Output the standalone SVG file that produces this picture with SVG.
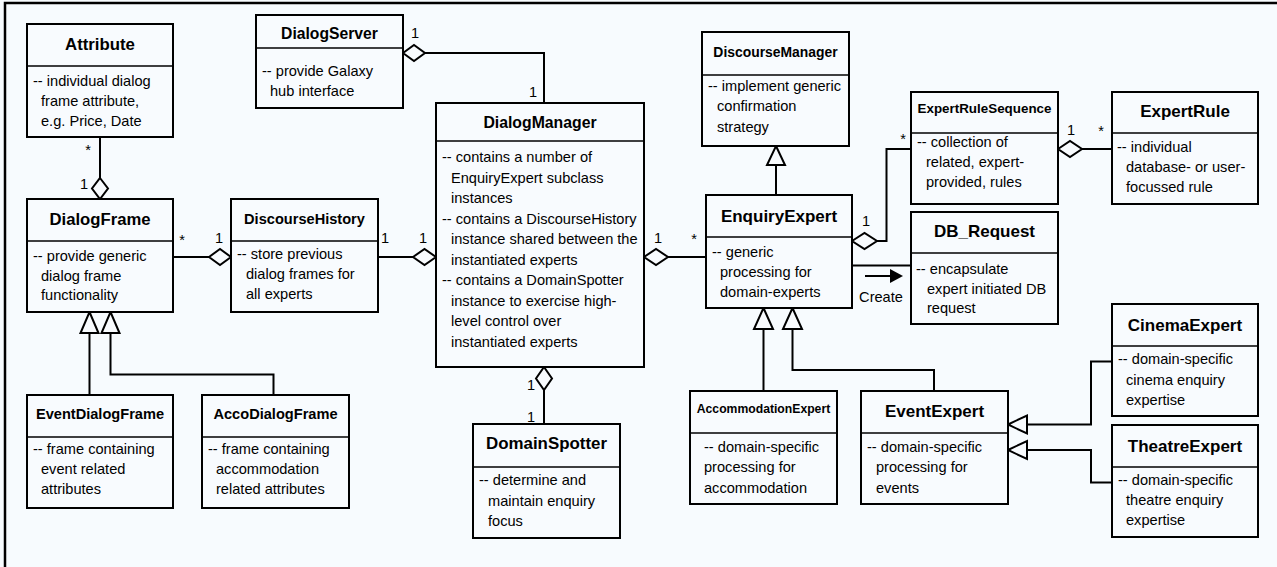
<svg xmlns="http://www.w3.org/2000/svg" width="1277" height="567" viewBox="0 0 1277 567">
<style>
text{font-family:"Liberation Sans",Arial,sans-serif;fill:#000}
.t{font-weight:bold;font-size:17px;text-anchor:middle}
.b{font-size:14.6px}
.m{font-size:14.6px;text-anchor:middle}
.box{fill:#f8fbfe;stroke:#000;stroke-width:2}
.div{stroke:#000;stroke-width:1.3}
.ln{fill:none;stroke:#000;stroke-width:2}
.dia{fill:#f8fbfe;stroke:#000;stroke-width:2;stroke-linejoin:miter}
.tri{fill:#f8fbfe;stroke:#000;stroke-width:2}
</style>
<rect x="0" y="0" width="1277" height="567" fill="#f7fbfe"/>
<path d="M5,567 V3 H1277" fill="none" stroke="#000" stroke-width="2.5"/>

<g id="connectors">
  <!-- Attribute - DialogFrame -->
  <path class="ln" d="M100,137 V178"/>
  <polygon class="dia" points="100,178 108,188.5 100,199 92,188.5"/>
  <text class="m" x="88" y="154.5">*</text>
  <text class="m" x="84" y="189">1</text>
  <!-- DialogFrame - DiscourseHistory -->
  <path class="ln" d="M173,257 H209"/>
  <polygon class="dia" points="209,257 220,249 231,257 220,265"/>
  <text class="m" x="182" y="244.5">*</text>
  <text class="m" x="219" y="243">1</text>
  <!-- DiscourseHistory - DialogManager -->
  <path class="ln" d="M378,257 H413"/>
  <polygon class="dia" points="413,257 424.5,249 436,257 424.5,265"/>
  <text class="m" x="385" y="243">1</text>
  <text class="m" x="423" y="243">1</text>
  <!-- DialogServer - DialogManager -->
  <polygon class="dia" points="403,53 414,45 425,53 414,61"/>
  <path class="ln" d="M425,53 H544 V103"/>
  <text class="m" x="415" y="38">1</text>
  <text class="m" x="533" y="97">1</text>
  <!-- DialogManager - DomainSpotter -->
  <polygon class="dia" points="544,367 552,378.5 544,390 536,378.5"/>
  <path class="ln" d="M544,390 V424"/>
  <text class="m" x="531" y="390">1</text>
  <text class="m" x="531" y="422">1</text>
  <!-- DialogManager - EnquiryExpert -->
  <polygon class="dia" points="644,257 656,249 668,257 656,265"/>
  <path class="ln" d="M668,257 H706"/>
  <text class="m" x="658" y="243">1</text>
  <text class="m" x="694" y="244">*</text>
  <!-- DiscourseManager generalisation -->
  <path class="ln" d="M776,165 V195"/>
  <polygon class="tri" points="776,146 785,165 767,165"/>
  <!-- EnquiryExpert - ExpertRuleSequence -->
  <polygon class="dia" points="852,241 864.5,233 877,241 864.5,249"/>
  <path class="ln" d="M877,241 H886.5 V149 H911"/>
  <text class="m" x="866" y="226">1</text>
  <text class="m" x="903" y="143.5">*</text>
  <!-- ExpertRuleSequence - ExpertRule -->
  <polygon class="dia" points="1058,149 1070,141 1082,149 1070,157"/>
  <path class="ln" d="M1082,149 H1112"/>
  <text class="m" x="1071" y="135">1</text>
  <text class="m" x="1101" y="136">*</text>
  <!-- Create -->
  <path class="ln" d="M852,265.5 H911"/>
  <path class="ln" d="M865,276 H891"/>
  <polygon points="890,269 903,276 890,283" fill="#000"/>
  <text class="m" x="881" y="302">Create</text>
  <!-- EnquiryExpert subclasses -->
  <path class="ln" d="M763.5,329 V391"/>
  <path class="ln" d="M792.5,329 V370 H934 V391"/>
  <polygon class="tri" points="763.5,308 773,329 754,329"/>
  <polygon class="tri" points="792.5,308 802,329 783,329"/>
  <!-- EventExpert subclasses -->
  <path class="ln" d="M1027,424.5 H1091 V361.5 H1112"/>
  <path class="ln" d="M1027,450 H1091 V482.5 H1112"/>
  <polygon class="tri" points="1008,424.5 1027,415.5 1027,433.5"/>
  <polygon class="tri" points="1008,450 1027,441 1027,459"/>
  <!-- DialogFrame subclasses -->
  <path class="ln" d="M89.5,333 V395"/>
  <path class="ln" d="M110.5,333 V374.5 H273.5 V395"/>
  <polygon class="tri" points="89.5,312 98.5,333 80.5,333"/>
  <polygon class="tri" points="110.5,312 119.5,333 101.5,333"/>
</g>

<g id="Attribute">
  <rect class="box" x="27" y="24" width="146" height="113"/>
  <line class="div" x1="27" y1="66" x2="173" y2="66"/>
  <text class="t" x="100" y="49.5" style="font-size:16.8px">Attribute</text>
  <text class="b" x="33" y="86">-- individual dialog</text>
  <text class="b" x="41" y="106">frame attribute,</text>
  <text class="b" x="41" y="125.5">e.g. Price, Date</text>
</g>

<g id="DialogFrame">
  <rect class="box" x="27" y="199" width="146" height="113"/>
  <line class="div" x1="27" y1="241" x2="173" y2="241"/>
  <text class="t" x="100" y="224.5" style="font-size:16.7px">DialogFrame</text>
  <text class="b" x="33" y="261">-- provide generic</text>
  <text class="b" x="41" y="280.5">dialog frame</text>
  <text class="b" x="41" y="300">functionality</text>
</g>

<g id="DiscourseHistory">
  <rect class="box" x="231" y="199" width="147" height="113"/>
  <line class="div" x1="231" y1="241" x2="378" y2="241"/>
  <text class="t" x="304.5" y="224" style="font-size:14.6px">DiscourseHistory</text>
  <text class="b" x="237" y="258.5">-- store previous</text>
  <text class="b" x="246" y="279">dialog frames for</text>
  <text class="b" x="246" y="299">all experts</text>
</g>

<g id="DialogServer">
  <rect class="box" x="256" y="15" width="147" height="93"/>
  <line class="div" x1="256" y1="48" x2="403" y2="48"/>
  <text class="t" x="329.5" y="39" style="font-size:15.7px">DialogServer</text>
  <text class="b" x="262" y="76">-- provide Galaxy</text>
  <text class="b" x="270" y="95.5">hub interface</text>
</g>

<g id="DialogManager">
  <rect class="box" x="436" y="103" width="208" height="264"/>
  <line class="div" x1="436" y1="141" x2="644" y2="141"/>
  <text class="t" x="540" y="127.5" style="font-size:15.8px">DialogManager</text>
  <text class="b" x="442" y="162">-- contains a number of</text>
  <text class="b" x="451" y="182.5">EnquiryExpert subclass</text>
  <text class="b" x="451" y="203">instances</text>
  <text class="b" x="442" y="223.5">-- contains a DiscourseHistory</text>
  <text class="b" x="451" y="244">instance shared between the</text>
  <text class="b" x="451" y="264.5">instantiated experts</text>
  <text class="b" x="442" y="285">-- contains a DomainSpotter</text>
  <text class="b" x="451" y="305.5">instance to exercise high-</text>
  <text class="b" x="451" y="326">level control over</text>
  <text class="b" x="451" y="346.5">instantiated experts</text>
</g>

<g id="DomainSpotter">
  <rect class="box" x="473" y="424" width="147" height="114"/>
  <line class="div" x1="473" y1="467" x2="620" y2="467"/>
  <text class="t" x="546.5" y="449" style="font-size:16.9px">DomainSpotter</text>
  <text class="b" x="479" y="485">-- determine and</text>
  <text class="b" x="488" y="505.5">maintain enquiry</text>
  <text class="b" x="488" y="526">focus</text>
</g>

<g id="DiscourseManager">
  <rect class="box" x="702" y="32" width="147" height="114"/>
  <line class="div" x1="702" y1="75" x2="849" y2="75"/>
  <text class="t" x="775.5" y="56.5" style="font-size:13.9px">DiscourseManager</text>
  <text class="b" x="708" y="91">-- implement generic</text>
  <text class="b" x="717" y="111">confirmation</text>
  <text class="b" x="717" y="131.5">strategy</text>
</g>

<g id="ExpertRuleSequence">
  <rect class="box" x="911" y="92" width="147" height="112"/>
  <line class="div" x1="911" y1="133" x2="1058" y2="133"/>
  <text class="t" x="984.5" y="113" style="font-size:13.4px">ExpertRuleSequence</text>
  <text class="b" x="917" y="146.5">-- collection of</text>
  <text class="b" x="926" y="167">related, expert-</text>
  <text class="b" x="926" y="187">provided, rules</text>
</g>

<g id="ExpertRule">
  <rect class="box" x="1112" y="92" width="146" height="112"/>
  <line class="div" x1="1112" y1="133" x2="1258" y2="133"/>
  <text class="t" x="1185" y="117">ExpertRule</text>
  <text class="b" x="1117" y="152">-- individual</text>
  <text class="b" x="1126" y="172">database- or user-</text>
  <text class="b" x="1126" y="192">focussed rule</text>
</g>

<g id="EnquiryExpert">
  <rect class="box" x="706" y="195" width="146" height="113"/>
  <line class="div" x1="706" y1="237" x2="852" y2="237"/>
  <text class="t" x="779" y="221.5">EnquiryExpert</text>
  <text class="b" x="712" y="257">-- generic</text>
  <text class="b" x="720" y="277">processing for</text>
  <text class="b" x="720" y="297">domain-experts</text>
</g>

<g id="DB_Request">
  <rect class="box" x="911" y="212" width="147" height="112"/>
  <line class="div" x1="911" y1="253" x2="1058" y2="253"/>
  <text class="t" x="984.5" y="236.5">DB_Request</text>
  <text class="b" x="916" y="274">-- encapsulate</text>
  <text class="b" x="927" y="294">expert initiated DB</text>
  <text class="b" x="927" y="313">request</text>
</g>

<g id="AccommodationExpert">
  <rect class="box" x="690" y="391" width="147" height="113"/>
  <line class="div" x1="690" y1="433" x2="837" y2="433"/>
  <text class="t" x="763.5" y="413" style="font-size:12.2px">AccommodationExpert</text>
  <text class="b" x="704" y="452">-- domain-specific</text>
  <text class="b" x="704" y="472">processing for</text>
  <text class="b" x="704" y="492.5">accommodation</text>
</g>

<g id="EventExpert">
  <rect class="box" x="861" y="391" width="147" height="113"/>
  <line class="div" x1="861" y1="433" x2="1008" y2="433"/>
  <text class="t" x="934.5" y="417">EventExpert</text>
  <text class="b" x="867" y="452">-- domain-specific</text>
  <text class="b" x="876" y="472">processing for</text>
  <text class="b" x="876" y="492.5">events</text>
</g>

<g id="CinemaExpert">
  <rect class="box" x="1112" y="304" width="146" height="112"/>
  <line class="div" x1="1112" y1="346" x2="1258" y2="346"/>
  <text class="t" x="1185" y="330.5">CinemaExpert</text>
  <text class="b" x="1118" y="364">-- domain-specific</text>
  <text class="b" x="1126" y="385">cinema enquiry</text>
  <text class="b" x="1126" y="405">expertise</text>
</g>

<g id="TheatreExpert">
  <rect class="box" x="1112" y="425" width="146" height="112"/>
  <line class="div" x1="1112" y1="467" x2="1258" y2="467"/>
  <text class="t" x="1185" y="451.5">TheatreExpert</text>
  <text class="b" x="1118" y="484.5">-- domain-specific</text>
  <text class="b" x="1126" y="505">theatre enquiry</text>
  <text class="b" x="1126" y="525">expertise</text>
</g>

<g id="EventDialogFrame">
  <rect class="box" x="27" y="395" width="146" height="113"/>
  <line class="div" x1="27" y1="437" x2="173" y2="437"/>
  <text class="t" x="100" y="419" style="font-size:14.6px">EventDialogFrame</text>
  <text class="b" x="33" y="454">-- frame containing</text>
  <text class="b" x="41" y="474">event related</text>
  <text class="b" x="41" y="494">attributes</text>
</g>

<g id="AccoDialogFrame">
  <rect class="box" x="202" y="395" width="147" height="113"/>
  <line class="div" x1="202" y1="437" x2="349" y2="437"/>
  <text class="t" x="275.5" y="419" style="font-size:14.6px">AccoDialogFrame</text>
  <text class="b" x="208" y="454">-- frame containing</text>
  <text class="b" x="216" y="474">accommodation</text>
  <text class="b" x="216" y="494">related attributes</text>
</g>
</svg>
